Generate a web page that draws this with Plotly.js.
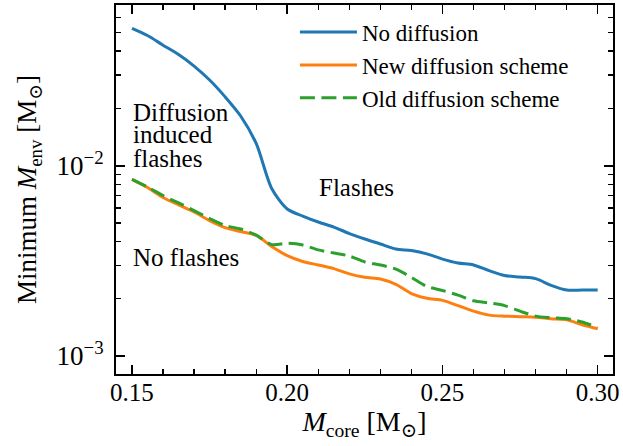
<!DOCTYPE html>
<html>
<head>
<meta charset="utf-8">
<script src="https://cdn.plot.ly/plotly-3.0.1.min.js"></script>
<style>html,body{margin:0;padding:0;background:#fff}#chart{width:623px;height:446px}</style>
</head>
<body>
<div id="chart"></div>
<script>
// Core mass grid (Msun)
const mcore = [0.150,0.155,0.160,0.165,0.170,0.175,0.180,0.185,0.190,0.195,
               0.200,0.205,0.210,0.215,0.220,0.225,0.230,0.235,0.240,0.245,
               0.250,0.255,0.260,0.265,0.270,0.275,0.280,0.285,0.290,0.295,0.300];
// Minimum envelope mass (Msun)
const noDiffusion = [0.0527,0.0483,0.0430,0.0384,0.0334,0.0282,0.0230,0.01824,0.01309,0.00759,
                     0.00592,0.00544,0.00506,0.00476,0.00440,0.00412,0.00388,0.00365,0.00358,0.00344,
                     0.00323,0.00308,0.00301,0.00281,0.00265,0.00260,0.00255,0.00235,0.00222,0.00222,0.00222];
const newDiffusion = [0.00848,0.00768,0.00681,0.00622,0.00571,0.00515,0.00473,0.00451,0.00430,0.00376,
                      0.00337,0.00314,0.00301,0.00288,0.00270,0.00259,0.00254,0.00238,0.00213,0.00201,
                      0.00196,0.00184,0.00172,0.00164,0.00162,0.00161,0.00160,0.00157,0.00155,0.00146,0.00139];
const oldDiffusion = [0.00848,0.00773,0.00697,0.00637,0.00581,0.00528,0.00485,0.00465,0.00432,0.00385,
                      0.00391,0.00383,0.00361,0.00348,0.00335,0.00312,0.00301,0.00286,0.00259,0.00232,
                      0.00221,0.00209,0.00195,0.00190,0.00184,0.00172,0.00162,0.00159,0.00157,0.00151,0.00141];
const seriesNames = ["No diffusion","New diffusion scheme","Old diffusion scheme"];
const xTickVals = [0.15,0.20,0.25,0.30];
const xTickText = ["0.15","0.20","0.25","0.30"];
const yTickVals = [0.001,0.01];
const yTickText = ["10<sup>−3</sup>","10<sup>−2</sup>"];
const yMinorVals = [0.002,0.003,0.004,0.005,0.006,0.007,0.008,0.009,0.02,0.03,0.04,0.05,0.06,0.07];

const FONT = "Liberation Serif, DejaVu Serif, serif";
const lw = 3;
const traces = [
  {x: mcore, y: noDiffusion, name: seriesNames[0], mode: "lines",
   line: {color: "#1f77b4", width: lw, shape: "spline", smoothing: 0.8}},
  {x: mcore, y: newDiffusion, name: seriesNames[1], mode: "lines",
   line: {color: "#ff7f0e", width: lw, shape: "spline", smoothing: 0.8}},
  {x: mcore, y: oldDiffusion, name: seriesNames[2], mode: "lines",
   line: {color: "#2ca02c", width: lw, shape: "spline", smoothing: 0.8, dash: "15px,6.5px"}}
];

const axisCommon = {
  showline: true, linecolor: "#000", linewidth: 2, mirror: "allticks",
  ticks: "inside", ticklen: 9, tickwidth: 1.6, tickcolor: "#000",
  showgrid: false, zeroline: false
};

const annFont = {family: FONT, size: 25, color: "#000"};

const layout = {
  width: 623, height: 446,
  margin: {l: 116, r: 10, t: 5, b: 72},
  paper_bgcolor: "#fff", plot_bgcolor: "#fff",
  font: {family: FONT, color: "#000"},
  showlegend: true,
  legend: {x: 0.36, y: 0.985, xanchor: "left", yanchor: "top",
           bgcolor: "rgba(255,255,255,0)", borderwidth: 0,
           font: {family: FONT, size: 23, color: "#000"}, itemwidth: 57},
  xaxis: Object.assign({}, axisCommon, {
    range: [0.14485, 0.30493], tickmode: "array", tickvals: xTickVals, ticktext: xTickText,
    tickfont: {family: FONT, size: 25, color: "#000"},
    minor: {dtick: 0.01, ticks: "inside", ticklen: 5, tickwidth: 1.3, tickcolor: "#000", showgrid: false},
    ticklabelstandoff: -5,
    title: {text: "<i>M</i><sub>core</sub> [M<sub>⊙</sub>]", font: {family: FONT, size: 28}, standoff: 6}
  }),
  yaxis: Object.assign({}, axisCommon, {
    type: "log", range: [-3.0946, -1.1555], tickmode: "array", tickvals: yTickVals, ticktext: yTickText,
    tickfont: {family: FONT, size: 27, color: "#000"},
    minor: {tickmode: "array", tickvals: yMinorVals, ticks: "inside", ticklen: 5, tickwidth: 1.3, tickcolor: "#000", showgrid: false},
    ticklabelstandoff: 5,
    title: {text: "Minimum <i>M</i><sub>env</sub> [M<sub>⊙</sub>]", font: {family: FONT, size: 27}, standoff: 12}
  }),
  annotations: [
    {text: "Diffusion", xref: "paper", yref: "paper", x: 0.031, y: 0.710, xanchor: "left", yanchor: "middle", showarrow: false, font: annFont},
    {text: "induced", xref: "paper", yref: "paper", x: 0.031, y: 0.650, xanchor: "left", yanchor: "middle", showarrow: false, font: annFont},
    {text: "flashes", xref: "paper", yref: "paper", x: 0.031, y: 0.585, xanchor: "left", yanchor: "middle", showarrow: false, font: annFont},
    {text: "Flashes", xref: "paper", yref: "paper", x: 0.405, y: 0.505, xanchor: "left", yanchor: "middle", showarrow: false, font: annFont},
    {text: "No flashes", xref: "paper", yref: "paper", x: 0.031, y: 0.316, xanchor: "left", yanchor: "middle", showarrow: false, font: annFont}
  ]
};

Plotly.newPlot("chart", traces, layout, {staticPlot: true, displayModeBar: false});
</script>
</body>
</html>
